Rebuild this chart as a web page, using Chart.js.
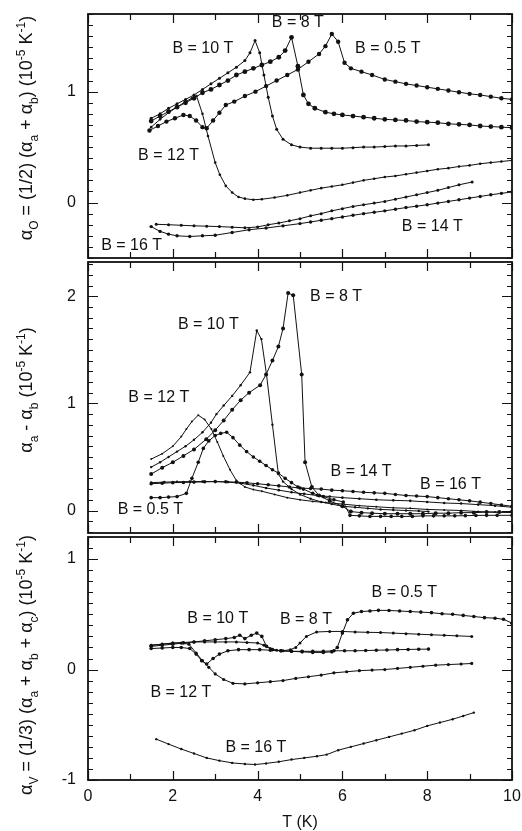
<!DOCTYPE html>
<html>
<head>
<meta charset="utf-8">
<script src="https://cdn.jsdelivr.net/npm/chart.js@4.4.1/dist/chart.umd.min.js"></script>
<style>
  html, body { margin: 0; padding: 0; background: #fff; }
  #wrap { position: relative; width: 522px; height: 831px; overflow: hidden; }
  canvas { position: absolute; left: 0; }
</style>
</head>
<body>
<div id="wrap">
  <canvas id="c1" width="522" height="262" style="top:0px"></canvas>
  <canvas id="c2" width="522" height="279" style="top:258px"></canvas>
  <canvas id="c3" width="522" height="298" style="top:533px"></canvas>
</div>
<script>
// ---------------- DATA (T in K, values in 10^-5 K^-1) ----------------
const xTickLabels = ['0', '2', '4', '6', '8', '10'];

// Panel 1: alpha_O = (1/2)(alpha_a + alpha_b)
const p1_B05 = [[1.45,0.65],[1.65,0.69],[1.85,0.73],[2.05,0.76],[2.25,0.79],[2.4,0.78],[2.55,0.74],[2.7,0.68],[2.8,0.67],[2.95,0.74],[3.1,0.81],[3.25,0.88],[3.45,0.91],[3.7,0.96],[3.95,1.0],[4.2,1.05],[4.45,1.1],[4.7,1.15],[4.95,1.2],[5.2,1.27],[5.45,1.34],[5.6,1.41],[5.75,1.52],[5.9,1.45],[6.05,1.26],[6.2,1.21],[6.45,1.18],[6.7,1.15],[7.0,1.11],[7.25,1.09],[7.5,1.07],[7.75,1.055],[8.0,1.04],[8.25,1.025],[8.5,1.01],[8.75,0.995],[9.0,0.98],[9.25,0.97],[9.5,0.955],[9.75,0.94],[10,0.93]];
const p1_B8 = [[1.49,0.735],[1.7,0.78],[1.9,0.82],[2.1,0.86],[2.3,0.9],[2.5,0.94],[2.7,0.99],[2.9,1.02],[3.1,1.06],[3.3,1.1],[3.5,1.15],[3.7,1.18],[3.9,1.21],[4.1,1.24],[4.3,1.27],[4.5,1.31],[4.65,1.37],[4.8,1.49],[4.95,1.23],[5.08,0.97],[5.2,0.89],[5.35,0.85],[5.6,0.815],[5.8,0.8],[6.0,0.79],[6.25,0.78],[6.5,0.77],[6.75,0.76],[7.0,0.75],[7.25,0.745],[7.5,0.74],[7.75,0.73],[8.0,0.725],[8.25,0.72],[8.5,0.71],[8.75,0.705],[9.0,0.7],[9.25,0.69],[9.5,0.685],[9.75,0.68],[10,0.675]];
const p1_B10 = [[1.49,0.76],[1.7,0.8],[1.9,0.85],[2.1,0.89],[2.3,0.93],[2.5,0.97],[2.7,1.02],[2.9,1.07],[3.1,1.12],[3.3,1.17],[3.5,1.22],[3.7,1.28],[3.82,1.35],[3.94,1.46],[4.05,1.35],[4.15,1.15],[4.25,0.95],[4.35,0.78],[4.45,0.66],[4.6,0.57],[4.8,0.52],[5.0,0.5],[5.25,0.49],[5.5,0.49],[5.75,0.49],[6.0,0.49],[6.25,0.495],[6.5,0.5],[6.75,0.5],[7.0,0.505],[7.25,0.51],[7.5,0.51],[7.75,0.515],[8.03,0.52]];
const p1_B12 = [[1.49,0.68],[1.7,0.75],[1.9,0.81],[2.1,0.86],[2.3,0.91],[2.45,0.94],[2.56,0.96],[2.7,0.8],[2.83,0.6],[3.0,0.36],[3.11,0.25],[3.25,0.15],[3.4,0.09],[3.55,0.05],[3.7,0.035],[3.9,0.025],[4.1,0.03],[4.4,0.045],[4.7,0.065],[5.0,0.09],[5.25,0.11],[5.5,0.13],[5.75,0.145],[6.0,0.16],[6.25,0.18],[6.5,0.2],[6.75,0.215],[7.0,0.23],[7.25,0.24],[7.5,0.255],[7.75,0.27],[8.0,0.285],[8.25,0.3],[8.5,0.31],[8.75,0.325],[9.0,0.335],[9.25,0.35],[9.5,0.36],[9.75,0.37],[10,0.38]];
const p1_B14 = [[1.49,-0.217],[1.7,-0.26],[1.9,-0.285],[2.1,-0.3],[2.4,-0.306],[2.7,-0.3],[3.0,-0.295],[3.4,-0.27],[3.8,-0.245],[4.2,-0.23],[4.6,-0.21],[5.0,-0.19],[5.25,-0.175],[5.5,-0.16],[5.75,-0.145],[6.0,-0.13],[6.25,-0.115],[6.5,-0.1],[6.75,-0.088],[7.0,-0.075],[7.25,-0.06],[7.5,-0.045],[7.75,-0.033],[8.0,-0.02],[8.25,-0.005],[8.5,0.01],[8.75,0.025],[9.0,0.04],[9.25,0.055],[9.5,0.07],[9.75,0.083],[10,0.095]];
const p1_B16 = [[1.61,-0.196],[1.9,-0.2],[2.2,-0.205],[2.5,-0.21],[2.8,-0.213],[3.1,-0.217],[3.4,-0.222],[3.7,-0.228],[4.0,-0.22],[4.25,-0.2],[4.5,-0.185],[4.75,-0.165],[5.0,-0.145],[5.25,-0.12],[5.5,-0.1],[5.75,-0.075],[6.0,-0.055],[6.25,-0.035],[6.5,-0.02],[6.75,-0.005],[7.0,0.01],[7.25,0.03],[7.5,0.05],[7.75,0.07],[8.0,0.09],[8.25,0.11],[8.5,0.135],[8.75,0.16],[9.06,0.185]];

// Panel 2: alpha_a - alpha_b
const p2_B05 = [[1.49,0.12],[1.7,0.12],[1.9,0.125],[2.1,0.13],[2.32,0.16],[2.45,0.3],[2.6,0.45],[2.72,0.58],[2.85,0.65],[3.0,0.7],[3.13,0.72],[3.27,0.73],[3.42,0.68],[3.58,0.61],[3.74,0.55],[3.9,0.5],[4.05,0.46],[4.2,0.42],[4.35,0.38],[4.49,0.35],[4.65,0.3],[4.8,0.26],[4.95,0.22],[5.08,0.2],[5.3,0.16],[5.55,0.13],[5.8,0.1],[6.02,0.08],[6.18,-0.045],[6.4,-0.05],[6.65,-0.055],[6.9,-0.055],[7.15,-0.055],[7.4,-0.055],[7.65,-0.055],[7.9,-0.05],[8.15,-0.05],[8.4,-0.05],[8.65,-0.05],[8.9,-0.048],[9.15,-0.046],[9.4,-0.045],[9.65,-0.045],[10,-0.045]];
const p2_B8 = [[1.49,0.34],[1.75,0.4],[2.0,0.45],[2.25,0.51],[2.5,0.57],[2.79,0.666],[3.0,0.75],[3.2,0.84],[3.4,0.94],[3.6,1.03],[3.8,1.1],[4.06,1.17],[4.2,1.27],[4.35,1.4],[4.49,1.53],[4.6,1.7],[4.72,2.03],[4.84,2.01],[5.04,1.27],[5.12,0.45],[5.28,0.22],[5.45,0.14],[5.7,0.09],[6.0,0.04],[6.2,-0.01],[6.45,-0.02],[6.7,-0.025],[7.0,-0.03],[7.3,-0.03],[7.6,-0.03],[7.9,-0.03],[8.2,-0.025],[8.5,-0.025],[8.8,-0.02],[9.1,-0.02],[9.4,-0.015],[9.7,-0.015],[10,-0.01]];
const p2_B10 = [[1.49,0.405],[1.7,0.45],[1.9,0.5],[2.1,0.55],[2.3,0.6],[2.5,0.66],[2.7,0.73],[2.9,0.82],[3.03,0.9],[3.2,0.98],[3.4,1.07],[3.6,1.17],[3.82,1.29],[3.98,1.68],[4.09,1.6],[4.21,1.27],[4.35,0.8],[4.49,0.34],[4.6,0.27],[4.8,0.2],[5.0,0.15],[5.25,0.11],[5.5,0.08],[5.75,0.06],[6.0,0.04],[6.3,0.03],[6.6,0.02],[6.9,0.01],[7.2,0.005],[7.5,0.0],[7.8,-0.005],[8.03,-0.01]];
const p2_B12 = [[1.49,0.48],[1.75,0.53],[2.0,0.6],[2.2,0.69],[2.32,0.76],[2.45,0.83],[2.6,0.89],[2.75,0.85],[2.91,0.76],[3.05,0.64],[3.19,0.51],[3.35,0.38],[3.5,0.28],[3.7,0.22],[3.9,0.195],[4.1,0.18],[4.4,0.15],[4.7,0.12],[5.0,0.1],[5.3,0.085],[5.6,0.075],[6.0,0.06],[6.4,0.045],[6.8,0.035],[7.2,0.025],[7.6,0.02],[8.0,0.01],[8.4,0.005],[8.8,0.0],[9.2,-0.01],[9.6,-0.015],[10,-0.02]];
const p2_B14 = [[1.49,0.25],[1.75,0.255],[2.0,0.26],[2.25,0.262],[2.5,0.265],[2.75,0.268],[3.0,0.27],[3.25,0.268],[3.5,0.265],[3.75,0.258],[4.0,0.25],[4.25,0.24],[4.5,0.23],[4.75,0.22],[5.0,0.21],[5.25,0.205],[5.5,0.2],[5.75,0.19],[6.0,0.185],[6.25,0.178],[6.5,0.17],[6.75,0.165],[7.0,0.16],[7.25,0.15],[7.5,0.14],[7.75,0.135],[8.0,0.13],[8.25,0.12],[8.5,0.11],[8.75,0.1],[9.0,0.09],[9.25,0.078],[9.5,0.065],[9.75,0.052],[10,0.04]];
const p2_B16 = [[1.49,0.26],[1.8,0.265],[2.1,0.268],[2.4,0.27],[2.7,0.27],[3.0,0.27],[3.3,0.265],[3.6,0.255],[3.9,0.235],[4.2,0.21],[4.5,0.19],[4.8,0.17],[5.1,0.155],[5.4,0.14],[5.7,0.13],[6.0,0.12],[6.4,0.11],[6.8,0.1],[7.2,0.095],[7.6,0.09],[8.0,0.08],[8.4,0.07],[8.8,0.065],[9.2,0.055],[9.6,0.045],[10,0.03]];

// Panel 3: alpha_V = (1/3)(alpha_a + alpha_b + alpha_c)
const p3_B05 = [[1.49,0.19],[1.75,0.195],[2.0,0.2],[2.2,0.2],[2.4,0.19],[2.55,0.14],[2.68,0.08],[2.8,0.05],[2.95,0.1],[3.1,0.14],[3.3,0.17],[3.55,0.18],[3.8,0.18],[4.05,0.18],[4.3,0.175],[4.55,0.17],[4.8,0.165],[5.05,0.16],[5.3,0.155],[5.55,0.155],[5.75,0.16],[5.88,0.2],[6.0,0.33],[6.12,0.45],[6.26,0.51],[6.45,0.525],[6.65,0.53],[6.85,0.536],[7.1,0.535],[7.35,0.53],[7.6,0.525],[7.85,0.52],[8.1,0.515],[8.35,0.505],[8.6,0.5],[8.85,0.49],[9.1,0.48],[9.35,0.47],[9.6,0.465],[9.8,0.455],[10,0.42]];
const p3_B8 = [[1.49,0.22],[1.75,0.23],[2.0,0.24],[2.25,0.245],[2.5,0.25],[2.75,0.25],[3.0,0.25],[3.25,0.25],[3.5,0.25],[3.75,0.245],[4.0,0.24],[4.15,0.22],[4.3,0.19],[4.45,0.175],[4.6,0.17],[4.77,0.18],[4.9,0.2],[5.0,0.24],[5.15,0.3],[5.39,0.34],[5.7,0.345],[6.0,0.345],[6.3,0.34],[6.6,0.337],[6.9,0.335],[7.2,0.33],[7.5,0.325],[7.8,0.32],[8.1,0.315],[8.4,0.31],[8.7,0.305],[9.05,0.3]];
const p3_B10 = [[1.49,0.21],[1.75,0.22],[2.0,0.23],[2.25,0.24],[2.5,0.25],[2.75,0.26],[3.0,0.27],[3.25,0.28],[3.45,0.29],[3.58,0.31],[3.7,0.28],[3.85,0.31],[3.98,0.33],[4.1,0.3],[4.21,0.21],[4.35,0.18],[4.55,0.17],[4.8,0.165],[5.05,0.165],[5.3,0.165],[5.55,0.165],[5.8,0.17],[6.05,0.17],[6.3,0.17],[6.55,0.172],[6.8,0.175],[7.05,0.177],[7.3,0.18],[7.55,0.182],[7.8,0.184],[8.03,0.185]];
const p3_B12 = [[1.49,0.22],[1.75,0.23],[2.0,0.24],[2.2,0.24],[2.38,0.23],[2.55,0.15],[2.7,0.08],[2.85,0.02],[3.0,-0.04],[3.2,-0.09],[3.42,-0.125],[3.7,-0.13],[4.0,-0.12],[4.3,-0.11],[4.6,-0.1],[4.9,-0.08],[5.2,-0.065],[5.5,-0.05],[5.8,-0.03],[6.1,-0.02],[6.4,-0.01],[6.7,-0.005],[7.0,0.0],[7.3,0.01],[7.6,0.02],[7.9,0.03],[8.2,0.04],[8.5,0.045],[8.8,0.05],[9.05,0.055]];
const p3_B16 = [[1.61,-0.63],[1.9,-0.675],[2.2,-0.72],[2.5,-0.76],[2.8,-0.8],[3.1,-0.825],[3.4,-0.845],[3.7,-0.855],[3.94,-0.86],[4.2,-0.85],[4.5,-0.835],[4.8,-0.815],[5.1,-0.8],[5.4,-0.785],[5.63,-0.77],[5.9,-0.73],[6.2,-0.7],[6.5,-0.67],[6.8,-0.64],[7.1,-0.61],[7.4,-0.58],[7.7,-0.55],[8.0,-0.51],[8.3,-0.48],[8.6,-0.45],[8.85,-0.42],[9.1,-0.39]];

// Curve labels (text) and where they sit (T, value)
const p1LabelText = ['B = 10 T', 'B = 8 T', 'B = 0.5 T', 'B = 12 T', 'B = 14 T', 'B = 16 T'];
const p1LabelAt   = [[2.71,1.39],[4.95,1.625],[7.07,1.39],[1.9,0.42],[8.12,-0.215],[1.03,-0.39]];
const p2LabelText = ['B = 8 T', 'B = 10 T', 'B = 12 T', 'B = 14 T', 'B = 16 T', 'B = 0.5 T'];
const p2LabelAt   = [[5.85,2.0],[2.84,1.74],[1.67,1.05],[6.44,0.36],[8.55,0.24],[1.47,0.005]];
const p3LabelText = ['B = 0.5 T', 'B = 10 T', 'B = 8 T', 'B = 12 T', 'B = 16 T'];
const p3LabelAt   = [[7.46,0.70],[3.06,0.46],[5.14,0.45],[2.19,-0.21],[3.96,-0.71]];

// Axis titles (rich text: [text, ''|'sub'|'sup'])
const p1Title = [['α',''],['O','sub'],[' = (1/2) (α',''],['a','sub'],[' + α',''],['b','sub'],[') (10',''],['-5','sup'],[' K',''],['-1','sup'],[')','']];
const p2Title = [['α',''],['a','sub'],[' - α',''],['b','sub'],[' (10',''],['-5','sup'],[' K',''],['-1','sup'],[')','']];
const p3Title = [['α',''],['V','sub'],[' = (1/3) (α',''],['a','sub'],[' + α',''],['b','sub'],[' + α',''],['c','sub'],[') (10',''],['-5','sup'],[' K',''],['-1','sup'],[')','']];
const xTitle = 'T (K)';

// ---------------- STYLE / RENDER ----------------
const FONT = '"Liberation Sans", Arial, Helvetica, sans-serif';
const INK = '#111';

function drawRich(ctx, parts, cx, cy, size) {
  ctx.save();
  ctx.translate(cx, cy);
  ctx.rotate(-Math.PI / 2);
  ctx.fillStyle = INK;
  ctx.textBaseline = 'alphabetic';
  ctx.textAlign = 'left';
  const small = Math.round(size * 0.68);
  let total = 0;
  const widths = parts.map(([t, k]) => {
    ctx.font = (k ? small : size) + 'px ' + FONT;
    const w = ctx.measureText(t).width;
    total += w;
    return w;
  });
  let x = -total / 2;
  const base = size * 0.36;
  parts.forEach(([t, k], i) => {
    ctx.font = (k ? small : size) + 'px ' + FONT;
    const dy = k === 'sub' ? size * 0.28 : (k === 'sup' ? -size * 0.42 : 0);
    ctx.fillText(t, x, base + dy);
    x += widths[i];
  });
  ctx.restore();
}

const decor = {
  id: 'decor',
  afterDraw(chart, args, opts) {
    const { ctx, chartArea: a, scales } = chart;
    const xs = scales.x, ys = scales.y;
    ctx.save();
    ctx.strokeStyle = INK;
    ctx.lineWidth = 1.8;
    ctx.strokeRect(a.left, a.top, a.width, a.height);
    ctx.lineWidth = 1.2;
    ctx.beginPath();
    for (let t = 0; t <= 10; t++) {
      const px = Math.round(xs.getPixelForValue(t)) + 0.5;
      const len = t % 2 === 0 ? 9 : 6;
      ctx.moveTo(px, a.top); ctx.lineTo(px, a.top + len);
      ctx.moveTo(px, a.bottom); ctx.lineTo(px, a.bottom - len);
    }
    const k0 = Math.ceil(ys.min * 10 - 1e-6), k1 = Math.floor(ys.max * 10 + 1e-6);
    for (let k = k0; k <= k1; k++) {
      const py = Math.round(ys.getPixelForValue(k / 10)) + 0.5;
      const len = k % 10 === 0 ? 10 : 5;
      ctx.moveTo(a.left, py); ctx.lineTo(a.left + len, py);
      ctx.moveTo(a.right, py); ctx.lineTo(a.right - len, py);
    }
    ctx.stroke();
    // curve labels
    ctx.fillStyle = INK;
    ctx.font = '16px ' + FONT;
    ctx.textAlign = 'center';
    ctx.textBaseline = 'middle';
    opts.labels.forEach((txt, i) => {
      const [t, v] = opts.at[i];
      ctx.fillText(txt, xs.getPixelForValue(t), ys.getPixelForValue(v));
    });
    ctx.restore();
    drawRich(ctx, opts.title, 26, opts.titleY, 18);
  }
};

function ds(label, pts, r) {
  return {
    label,
    data: pts.map(([x, y]) => ({ x, y })),
    showLine: true,
    borderColor: INK,
    borderWidth: 1,
    backgroundColor: INK,
    pointBackgroundColor: INK,
    pointBorderWidth: 0,
    pointRadius: r,
    tension: 0
  };
}

function makePanel(id, cfg) {
  const yScale = {
    type: 'linear', position: 'left', min: cfg.yMin, max: cfg.yMax,
    grid: { display: false, drawTicks: false },
    border: { display: false },
    ticks: {
      stepSize: 1, includeBounds: false, padding: 12, color: INK,
      font: { family: FONT, size: 16 },
      callback: v => Number.isInteger(v) ? String(v) : ''
    },
    afterFit: s => { s.width = 88; s.paddingTop = 0; s.paddingBottom = 0; }
  };
  const xScale = {
    type: 'linear', position: 'bottom', min: 0, max: 10,
    display: cfg.showX,
    grid: { display: false, drawTicks: false },
    border: { display: false },
    ticks: {
      stepSize: 2, padding: 7, color: INK, maxRotation: 0, autoSkip: false,
      font: { family: FONT, size: 16 },
      callback: (v) => { const i = xTickLabels.indexOf(String(v)); return i >= 0 ? xTickLabels[i] : ''; }
    },
    title: { display: cfg.showX, text: xTitle, color: INK, font: { family: FONT, size: 16, lineHeight: 1 }, padding: { top: 0, bottom: 0 } },
    afterFit: s => {
      if (cfg.showX) { s.height = 51; } else { s.height = 0; }
      s.paddingLeft = 0; s.paddingRight = 0;
    }
  };
  return new Chart(document.getElementById(id), {
    type: 'scatter',
    data: { datasets: cfg.series.map(s => ds(s[0], s[1], s[2])) },
    options: {
      responsive: false, animation: false, devicePixelRatio: 1,
      layout: { padding: cfg.padding },
      scales: { x: xScale, y: yScale },
      plugins: {
        legend: { display: false }, tooltip: { enabled: false },
        decor: { labels: cfg.labelText, at: cfg.labelAt, title: cfg.title, titleY: cfg.titleY }
      }
    },
    plugins: [decor]
  });
}

makePanel('c1', {
  yMin: -0.5, yMax: 1.7, showX: false,
  padding: { top: 14, bottom: 2, left: 0, right: 10 },
  series: [['B = 0.5 T', p1_B05, 2.2], ['B = 8 T', p1_B8, 2.4], ['B = 10 T', p1_B10, 1.5],
           ['B = 12 T', p1_B12, 1.3], ['B = 14 T', p1_B14, 1.7], ['B = 16 T', p1_B16, 1.5]],
  labelText: p1LabelText, labelAt: p1LabelAt, title: p1Title, titleY: 128
});
makePanel('c2', {
  yMin: -0.21, yMax: 2.32, showX: false,
  padding: { top: 2, bottom: 2, left: 0, right: 10 },
  series: [['B = 0.5 T', p2_B05, 1.8], ['B = 8 T', p2_B8, 2.0], ['B = 10 T', p2_B10, 1.2],
           ['B = 12 T', p2_B12, 1.0], ['B = 14 T', p2_B14, 1.8], ['B = 16 T', p2_B16, 1.3]],
  labelText: p2LabelText, labelAt: p2LabelAt, title: p2Title, titleY: 132
});
makePanel('c3', {
  yMin: -1, yMax: 1.2, showX: true,
  padding: { top: 2, bottom: 0, left: 0, right: 10 },
  series: [['B = 0.5 T', p3_B05, 1.8], ['B = 8 T', p3_B8, 1.5], ['B = 10 T', p3_B10, 1.8],
           ['B = 12 T', p3_B12, 1.6], ['B = 16 T', p3_B16, 1.2]],
  labelText: p3LabelText, labelAt: p3LabelAt, title: p3Title, titleY: 132
});
</script>
</body>
</html>
